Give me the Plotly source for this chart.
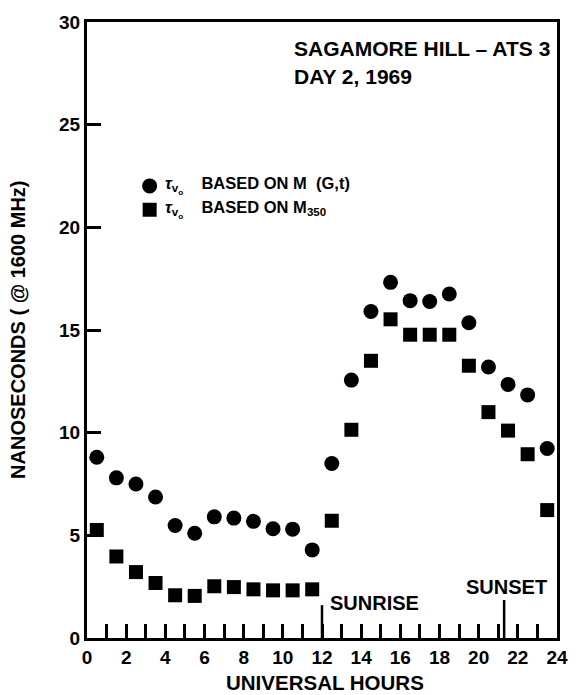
import plotly.graph_objects as go

# Universal time (hours) of each measurement
hours = [0.5, 1.5, 2.5, 3.5, 4.5, 5.5, 6.5, 7.5, 8.5, 9.5, 10.5, 11.5,
         12.5, 13.5, 14.5, 15.5, 16.5, 17.5, 18.5, 19.5, 20.5, 21.5, 22.5, 23.5]

# Equivalent vertical delay (ns @ 1600 MHz)
tau_m_gt = [8.8, 7.8, 7.5, 6.87, 5.48, 5.1, 5.9, 5.84, 5.68, 5.32, 5.3, 4.29,
            8.5, 12.56, 15.9, 17.32, 16.43, 16.39, 16.75, 15.35, 13.2, 12.35, 11.84, 9.23]
tau_m350 = [5.26, 3.97, 3.21, 2.68, 2.08, 2.05, 2.52, 2.48, 2.37, 2.32, 2.32, 2.37,
            5.71, 10.14, 13.5, 15.52, 14.77, 14.77, 14.77, 13.26, 11.0, 10.1, 8.95, 6.23]

SUNRISE_HOUR = 12.0
SUNSET_HOUR = 21.3

x_ticks = list(range(0, 25, 2))
y_ticks = list(range(0, 31, 5))

series_labels = [
    "<i>τ</i><sub>v<sub>o</sub></sub>   \u00a0BASED ON M  (G,t)",
    "<i>τ</i><sub>v<sub>o</sub></sub>   \u00a0BASED ON M<sub>350</sub>",
]

FONT = "Liberation Sans"
NARROW = "Liberation Sans Narrow, Liberation Sans"
BLACK = "black"
CIRCLE_SIZE = 15
SQUARE_SIZE = 14

fig = go.Figure()
fig.add_trace(go.Scatter(
    x=hours, y=tau_m_gt, mode="markers", name=series_labels[0],
    marker=dict(symbol="circle", size=CIRCLE_SIZE, color=BLACK),
))
fig.add_trace(go.Scatter(
    x=hours, y=tau_m350, mode="markers", name=series_labels[1],
    marker=dict(symbol="square", size=SQUARE_SIZE, color=BLACK),
))

axis_common = dict(
    showline=True, linewidth=3, linecolor=BLACK, mirror=True,
    showgrid=False, zeroline=False, ticks="inside", tickcolor=BLACK,
    tickfont=dict(family=FONT, size=19, color=BLACK, weight="bold"),
)

fig.update_xaxes(
    range=[0, 24], tickvals=x_ticks, ticklen=14, tickwidth=2.5,
    minor=dict(dtick=1, tick0=0, ticks="inside", ticklen=14, tickwidth=2.5, tickcolor=BLACK),
    **axis_common,
)
fig.update_yaxes(range=[0, 30], tickvals=y_ticks, ticklen=14, tickwidth=3, **axis_common)

# sunrise / sunset markers on the time axis
fig.add_shape(type="line", x0=SUNRISE_HOUR, x1=SUNRISE_HOUR, y0=0, y1=1.6,
              xref="x", yref="y", line=dict(color=BLACK, width=2.5))
fig.add_shape(type="line", x0=SUNSET_HOUR, x1=SUNSET_HOUR, y0=0, y1=1.85,
              xref="x", yref="y", line=dict(color=BLACK, width=2.5))

text_font = dict(family=FONT, size=20, color=BLACK, weight="bold")
title_font = dict(family=FONT, size=21, color=BLACK, weight="bold")
fig.add_annotation(x=SUNRISE_HOUR + 0.3, y=1.7, xref="x", yref="y", text="SUNRISE",
                   showarrow=False, xanchor="left", yanchor="middle", font=text_font)
fig.add_annotation(x=SUNSET_HOUR + 0.1, y=2.5, xref="x", yref="y", text="SUNSET",
                   showarrow=False, xanchor="center", yanchor="middle", font=text_font)

fig.add_annotation(x=0.437, y=0.957, xref="paper", yref="paper",
                   text="SAGAMORE HILL – ATS 3", showarrow=False,
                   xanchor="left", yanchor="middle", font=title_font)
fig.add_annotation(x=0.437, y=0.912, xref="paper", yref="paper",
                   text="DAY 2, 1969", showarrow=False,
                   xanchor="left", yanchor="middle", font=title_font)

fig.add_annotation(x=0.506, y=-0.0726, xref="paper", yref="paper",
                   text="UNIVERSAL HOURS", showarrow=False,
                   xanchor="center", yanchor="middle",
                   font=dict(family=FONT, size=20.5, color=BLACK, weight="bold"))
fig.add_annotation(x=-0.147, y=0.5, xref="paper", yref="paper",
                   text="NANOSECONDS ( @ 1600 MHz)", showarrow=False, textangle=-90,
                   xanchor="center", yanchor="middle", font=text_font)

# key: symbol + description for each series
key_x = 0.1333
key_rows = [0.7339, 0.6952]
for (sym_type, size), y_row, label in zip(
        [("circle", CIRCLE_SIZE), ("rect", SQUARE_SIZE)], key_rows, series_labels):
    fig.add_shape(type=sym_type, xref="paper", yref="paper",
                  xsizemode="pixel", ysizemode="pixel",
                  xanchor=key_x, yanchor=y_row,
                  x0=-size / 2, x1=size / 2, y0=-size / 2, y1=size / 2,
                  fillcolor=BLACK, line=dict(width=0))
    fig.add_annotation(x=0.1625, y=y_row, xref="paper", yref="paper",
                       text=label, showarrow=False, xanchor="left", yanchor="middle",
                       font=dict(family=NARROW, size=16.5, color=BLACK, weight="bold"))

fig.update_layout(
    width=580, height=695,
    margin=dict(l=87, r=13, t=18, b=57),
    paper_bgcolor="white", plot_bgcolor="white",
    showlegend=False,
)

fig.write_html("out.html")
